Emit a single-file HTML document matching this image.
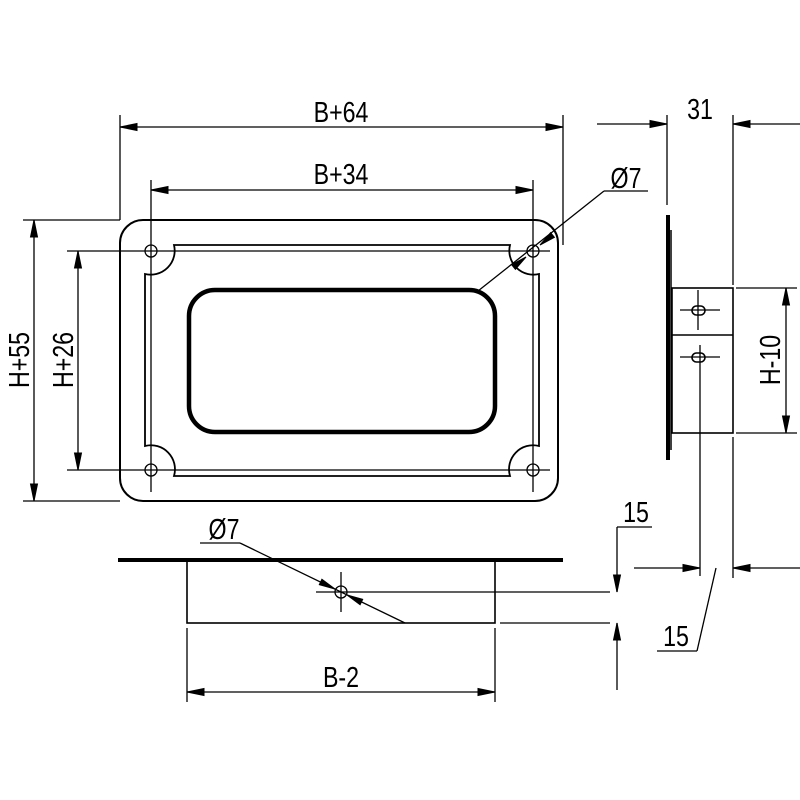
<!DOCTYPE html>
<html><head><meta charset="utf-8"><style>html,body{margin:0;padding:0;background:#fff}svg{display:block}</style></head>
<body>
<svg width="800" height="800" viewBox="0 0 800 800" xmlns="http://www.w3.org/2000/svg" font-family="Liberation Sans, sans-serif">
<g stroke="#000" fill="none" stroke-width="1.3">
<rect x="120" y="220" width="438" height="281" rx="23" stroke-width="2"/>
<path d="M174,245 L510,245 A24,24 0 0 0 539,274 L539,446 A24,24 0 0 0 510,476 L174,476 A24,24 0 0 0 145,446 L145,274 A24,24 0 0 0 174,245 Z" stroke-width="1.8"/>
<rect x="189" y="290" width="306" height="142" rx="26" stroke-width="4.5"/>
<circle cx="151" cy="251" r="6"/><circle cx="533" cy="251" r="6"/><circle cx="151" cy="470" r="6"/><circle cx="533" cy="470" r="6"/>
<line x1="120" y1="115" x2="120" y2="220"/>
<line x1="563" y1="115" x2="563" y2="245"/>
<line x1="151" y1="180" x2="151" y2="492"/>
<line x1="533" y1="180" x2="533" y2="492"/>
<line x1="23" y1="220" x2="120" y2="220"/>
<line x1="23" y1="501" x2="120" y2="501"/>
<line x1="67" y1="251" x2="550" y2="251"/>
<line x1="67" y1="470" x2="550" y2="470"/>
<line x1="120" y1="127" x2="563" y2="127"/>
<line x1="151" y1="190" x2="533" y2="190"/>
<line x1="34" y1="220" x2="34" y2="501"/>
<line x1="78" y1="251" x2="78" y2="470"/>
<line x1="478" y1="291" x2="604" y2="191"/>
<line x1="604" y1="191" x2="648" y2="191"/>
<line x1="668" y1="215" x2="668" y2="460" stroke-width="4"/>
<line x1="671" y1="230" x2="671" y2="450" stroke-width="1.5"/>
<rect x="672" y="288" width="61" height="145" stroke-width="1.6"/>
<line x1="672" y1="335" x2="733" y2="335" stroke-width="1.6"/>
<rect x="692" y="306" width="13" height="9" rx="4.5" stroke-width="1.6"/>
<rect x="692" y="353" width="13" height="9" rx="4.5" stroke-width="1.6"/>
<line x1="680" y1="310" x2="720" y2="310"/><line x1="698" y1="290" x2="698" y2="330"/>
<line x1="680" y1="357" x2="720" y2="357"/>
<line x1="700" y1="345" x2="700" y2="576"/>
<line x1="667" y1="115" x2="667" y2="205"/>
<line x1="733" y1="115" x2="733" y2="285"/>
<line x1="733" y1="437" x2="733" y2="578"/>
<line x1="597" y1="124" x2="667" y2="124"/>
<line x1="800" y1="124" x2="733" y2="124"/>
<line x1="736" y1="288" x2="797" y2="288"/>
<line x1="736" y1="433" x2="797" y2="433"/>
<line x1="786" y1="288" x2="786" y2="433"/>
<line x1="634" y1="568" x2="700" y2="568"/>
<line x1="800" y1="568" x2="733" y2="568"/>
<line x1="716" y1="568" x2="697" y2="651"/>
<line x1="697" y1="651" x2="657" y2="651"/>
<line x1="118" y1="560" x2="563" y2="560" stroke-width="4"/>
<rect x="187" y="561" width="308" height="62" stroke-width="1.6"/>
<circle cx="341" cy="592" r="6"/>
<line x1="316" y1="592" x2="610" y2="592"/><line x1="341" y1="572" x2="341" y2="612"/>
<line x1="500" y1="623" x2="610" y2="623"/>
<line x1="200" y1="543" x2="240" y2="543"/>
<line x1="240" y1="543" x2="405" y2="623"/>
<line x1="187" y1="628" x2="187" y2="702"/>
<line x1="495" y1="628" x2="495" y2="702"/>
<line x1="187" y1="692" x2="495" y2="692"/>
<line x1="617" y1="527" x2="617" y2="592"/>
<line x1="617" y1="690" x2="617" y2="623"/>
<line x1="617" y1="527" x2="652" y2="527"/>
</g>
<path fill="#000" stroke="#000" stroke-width="1" stroke-linejoin="miter" d="
M120,127 L137,123.5 L137,130.5 Z M563,127 L546,123.5 L546,130.5 Z
M151,190 L168,186.5 L168,193.5 Z M533,190 L516,186.5 L516,193.5 Z
M34,220 L30.5,237 L37.5,237 Z M34,501 L30.5,484 L37.5,484 Z
M78,251 L74.5,268 L81.5,268 Z M78,470 L74.5,453 L81.5,453 Z
M786,288 L782.5,305 L789.5,305 Z M786,433 L782.5,416 L789.5,416 Z
M667,124 L650,120.5 L650,127.5 Z M733,124 L750,120.5 L750,127.5 Z
M700,568 L683,564.5 L683,571.5 Z M733,568 L750,564.5 L750,571.5 Z
M617,592 L613.5,575 L620.5,575 Z M617,623 L613.5,640 L620.5,640 Z
M187,692 L204,688.5 L204,695.5 Z M495,692 L478,688.5 L478,695.5 Z
M526,257 L515.4,269.3 L511.6,264.6 Z M540,245 L554.4,237.3 L550.6,232.7 Z
M335,589 L319.3,584.7 L321.9,579.3 Z M347,595 L360.1,604.7 L362.7,599.3 Z"/>
<g font-size="29" fill="#000" text-anchor="middle">
<text transform="translate(341,122) scale(0.8,1)">B+64</text>
<text transform="translate(341,184) scale(0.8,1)">B+34</text>
<text transform="translate(626,188) scale(0.8,1)">Ø7</text>
<text transform="translate(700,119) scale(0.8,1)">31</text>
<text transform="translate(224,539) scale(0.8,1)">Ø7</text>
<text transform="translate(341,687) scale(0.8,1)">B-2</text>
<text transform="translate(636,522) scale(0.8,1)">15</text>
<text transform="translate(676,646) scale(0.8,1)">15</text>
<text transform="translate(29,360) rotate(-90) scale(0.8,1)">H+55</text>
<text transform="translate(73,360) rotate(-90) scale(0.8,1)">H+26</text>
<text transform="translate(780,360) rotate(-90) scale(0.8,1)">H-10</text>
</g>
</svg>
</body></html>
